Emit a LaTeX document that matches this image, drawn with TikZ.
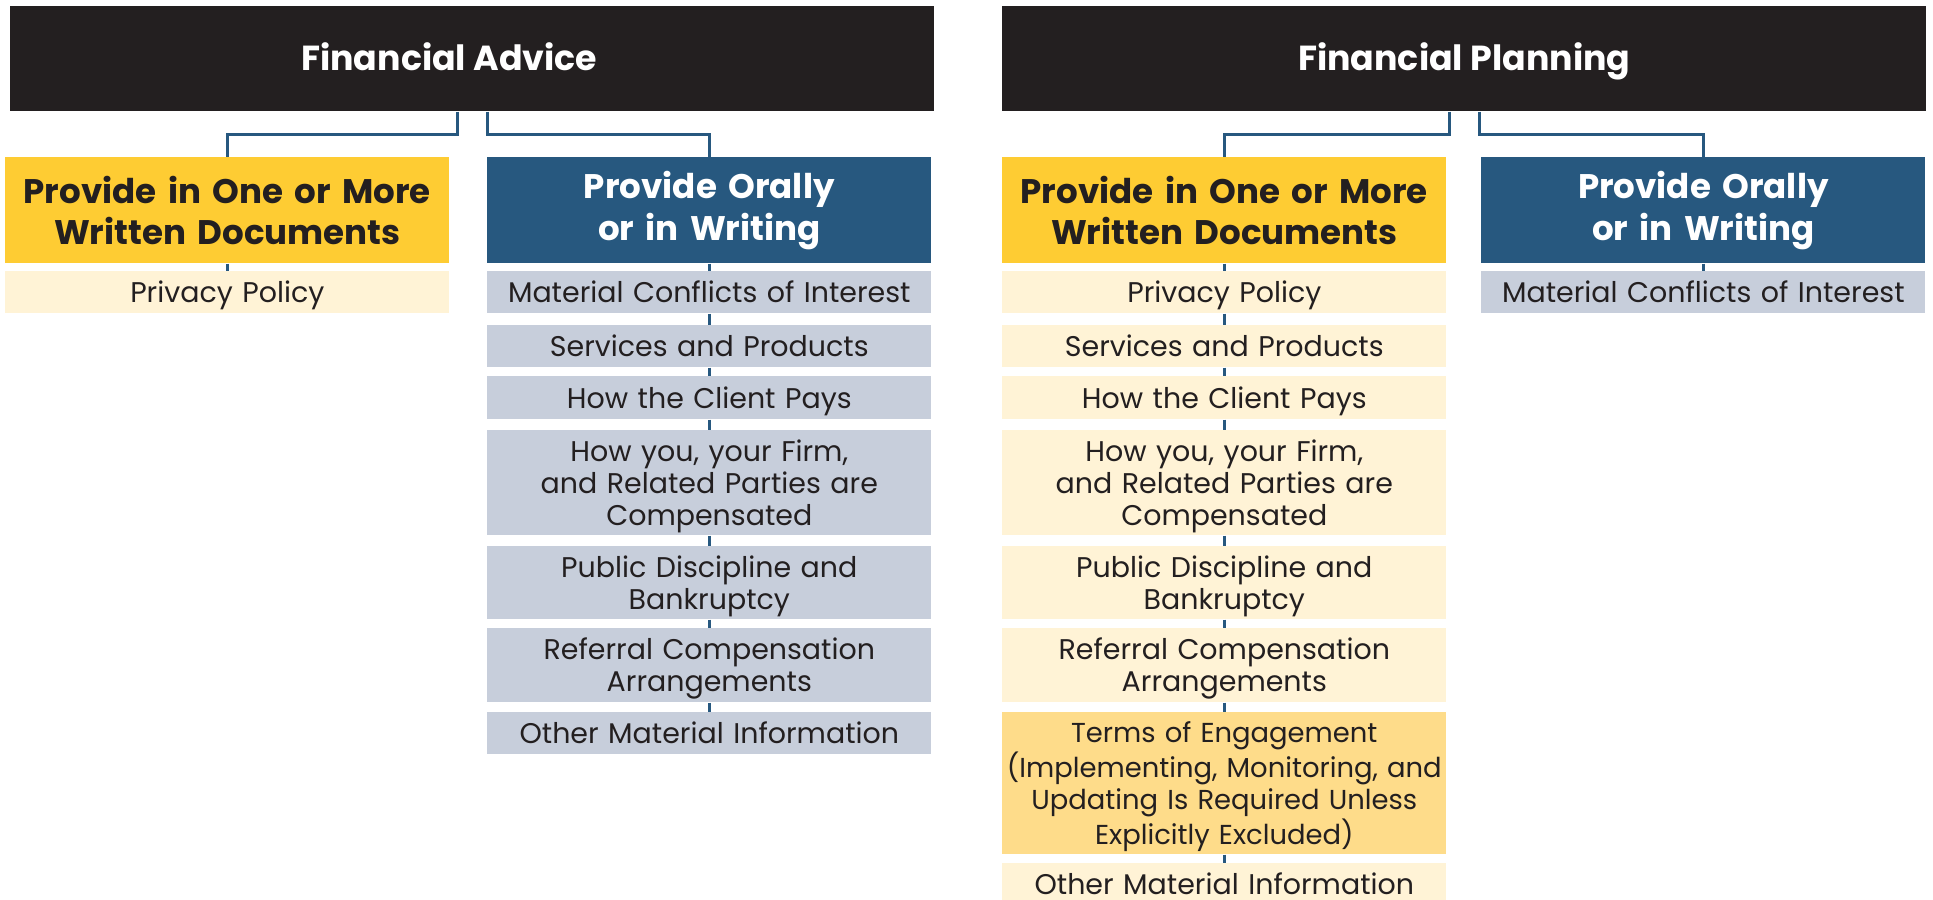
\documentclass[tikz,border=0pt]{standalone}
\usepackage{fontspec}
\setmainfont{Poppins}
\usetikzlibrary{positioning}
\definecolor{inkblack}{HTML}{231F20}
\definecolor{gold}{HTML}{FECC33}
\definecolor{navy}{HTML}{27587F}
\definecolor{cream}{HTML}{FFF3D6}
\definecolor{mist}{HTML}{C7CEDB}
\definecolor{sand}{HTML}{FEDC8A}
\newcommand{\toprule}{\rule{0pt}{16.7pt}}
\newcommand{\botrule}{\rule[-5pt]{0pt}{5pt}}
\tikzset{
  topbox/.style={anchor=north west, fill=inkblack, text=white, font=\fontsize{19.8}{23}\selectfont\bfseries,
    minimum width=18.48cm, minimum height=2.1cm, inner sep=0pt, text height=19pt, text depth=5.2pt},
  ybox/.style={anchor=north west, fill=gold, text=inkblack, font=\fontsize{19.4}{23.7}\selectfont\bfseries,
    minimum width=8.88cm, minimum height=2.12cm, inner sep=0pt, text width=8.88cm, align=center},
  bbox/.style={ybox, fill=navy, text=white},
  yitem/.style={anchor=north west, fill=cream, text=inkblack, font=\fontsize{16.2}{18.2}\selectfont,
    minimum width=8.88cm, minimum height=0.84cm, inner sep=0pt, text width=8.88cm, align=center,
    execute at begin node=\toprule, execute at end node=\botrule},
  bitem/.style={yitem, fill=mist},
  titem/.style={yitem, fill=sand, font=\fontsize{15.6}{18.6}\selectfont},
  link/.style={draw=navy, line width=1.5pt}
}
\begin{document}
\begin{tikzpicture}[x=0.02cm, y=-0.02cm]
    \useasboundingbox (0,0) rectangle (1933,899);
    \clip (0,0) rectangle (1933,899);
    % Financial Advice
    \node[topbox] (fa) at (10,6) {Financial Advice\rule{0.92cm}{0pt}};
    \node[ybox] (fawd) at (5,157) {Provide in One or More\\Written Documents};
    \node[bbox] (faor) at (487,157) {Provide Orally\\or in Writing};
    \node[yitem] (fawd1) at (5,271) {Privacy Policy};
    \node[bitem] (faor1) at (487,271) {Material Conflicts of Interest};
    \node[bitem] (faor2) at (487,325) {Services and Products};
    \node[bitem, minimum height=0.86cm] (faor3) at (487,376) {How the Client Pays};
    \node[bitem, minimum height=2.1cm] (faor4) at (487,430) {How you, your Firm,\\and Related Parties are\\Compensated};
    \node[bitem, minimum height=1.46cm] (faor5) at (487,546) {Public Discipline and\\Bankruptcy};
    \node[bitem, minimum height=1.48cm] (faor6) at (487,628) {Referral Compensation\\Arrangements};
    \node[bitem] (faor7) at (487,712) {Other Material Information};
    \draw[link] ([xshift=-0.3cm]fa.south) -- ++(0,23) -| (fawd.north);
    \draw[link] ([xshift=0.3cm]fa.south) -- ++(0,23) -| (faor.north);
    \draw[link] (fawd.south) -- (fawd1.north);
    \draw[link] (faor.south) -- (faor1.north);
    \draw[link] (faor1.south) -- (faor2.north);
    \draw[link] (faor2.south) -- (faor3.north);
    \draw[link] (faor3.south) -- (faor4.north);
    \draw[link] (faor4.south) -- (faor5.north);
    \draw[link] (faor5.south) -- (faor6.north);
    \draw[link] (faor6.south) -- (faor7.north);
    % Financial Planning
    \node[topbox] (fp) at (1002,6) {Financial Planning};
    \node[ybox] (fpwd) at (1002,157) {Provide in One or More\\Written Documents};
    \node[bbox] (fpor) at (1481,157) {Provide Orally\\or in Writing};
    \node[yitem] (fpwd1) at (1002,271) {Privacy Policy};
    \node[yitem] (fpwd2) at (1002,325) {Services and Products};
    \node[yitem, minimum height=0.86cm] (fpwd3) at (1002,376) {How the Client Pays};
    \node[yitem, minimum height=2.1cm] (fpwd4) at (1002,430) {How you, your Firm,\\and Related Parties are\\Compensated};
    \node[yitem, minimum height=1.46cm] (fpwd5) at (1002,546) {Public Discipline and\\Bankruptcy};
    \node[yitem, minimum height=1.48cm] (fpwd6) at (1002,628) {Referral Compensation\\Arrangements};
    \node[titem, minimum height=2.84cm] (fpwd7) at (1002,712) {Terms of Engagement\\(Implementing, Monitoring, and\\Updating Is Required Unless\\Explicitly Excluded)};
    \node[yitem] (fpwd8) at (1002,863) {Other Material Information};
    \node[bitem] (fpor1) at (1481,271) {Material Conflicts of Interest};
    \draw[link] ([xshift=-0.3cm]fp.south) -- ++(0,23) -| (fpwd.north);
    \draw[link] ([xshift=0.3cm]fp.south) -- ++(0,23) -| (fpor.north);
    \draw[link] (fpwd.south) -- (fpwd1.north);
    \draw[link] (fpwd1.south) -- (fpwd2.north);
    \draw[link] (fpwd2.south) -- (fpwd3.north);
    \draw[link] (fpwd3.south) -- (fpwd4.north);
    \draw[link] (fpwd4.south) -- (fpwd5.north);
    \draw[link] (fpwd5.south) -- (fpwd6.north);
    \draw[link] (fpwd6.south) -- (fpwd7.north);
    \draw[link] (fpwd7.south) -- (fpwd8.north);
    \draw[link] (fpor.south) -- (fpor1.north);
\end{tikzpicture}
\end{document}
